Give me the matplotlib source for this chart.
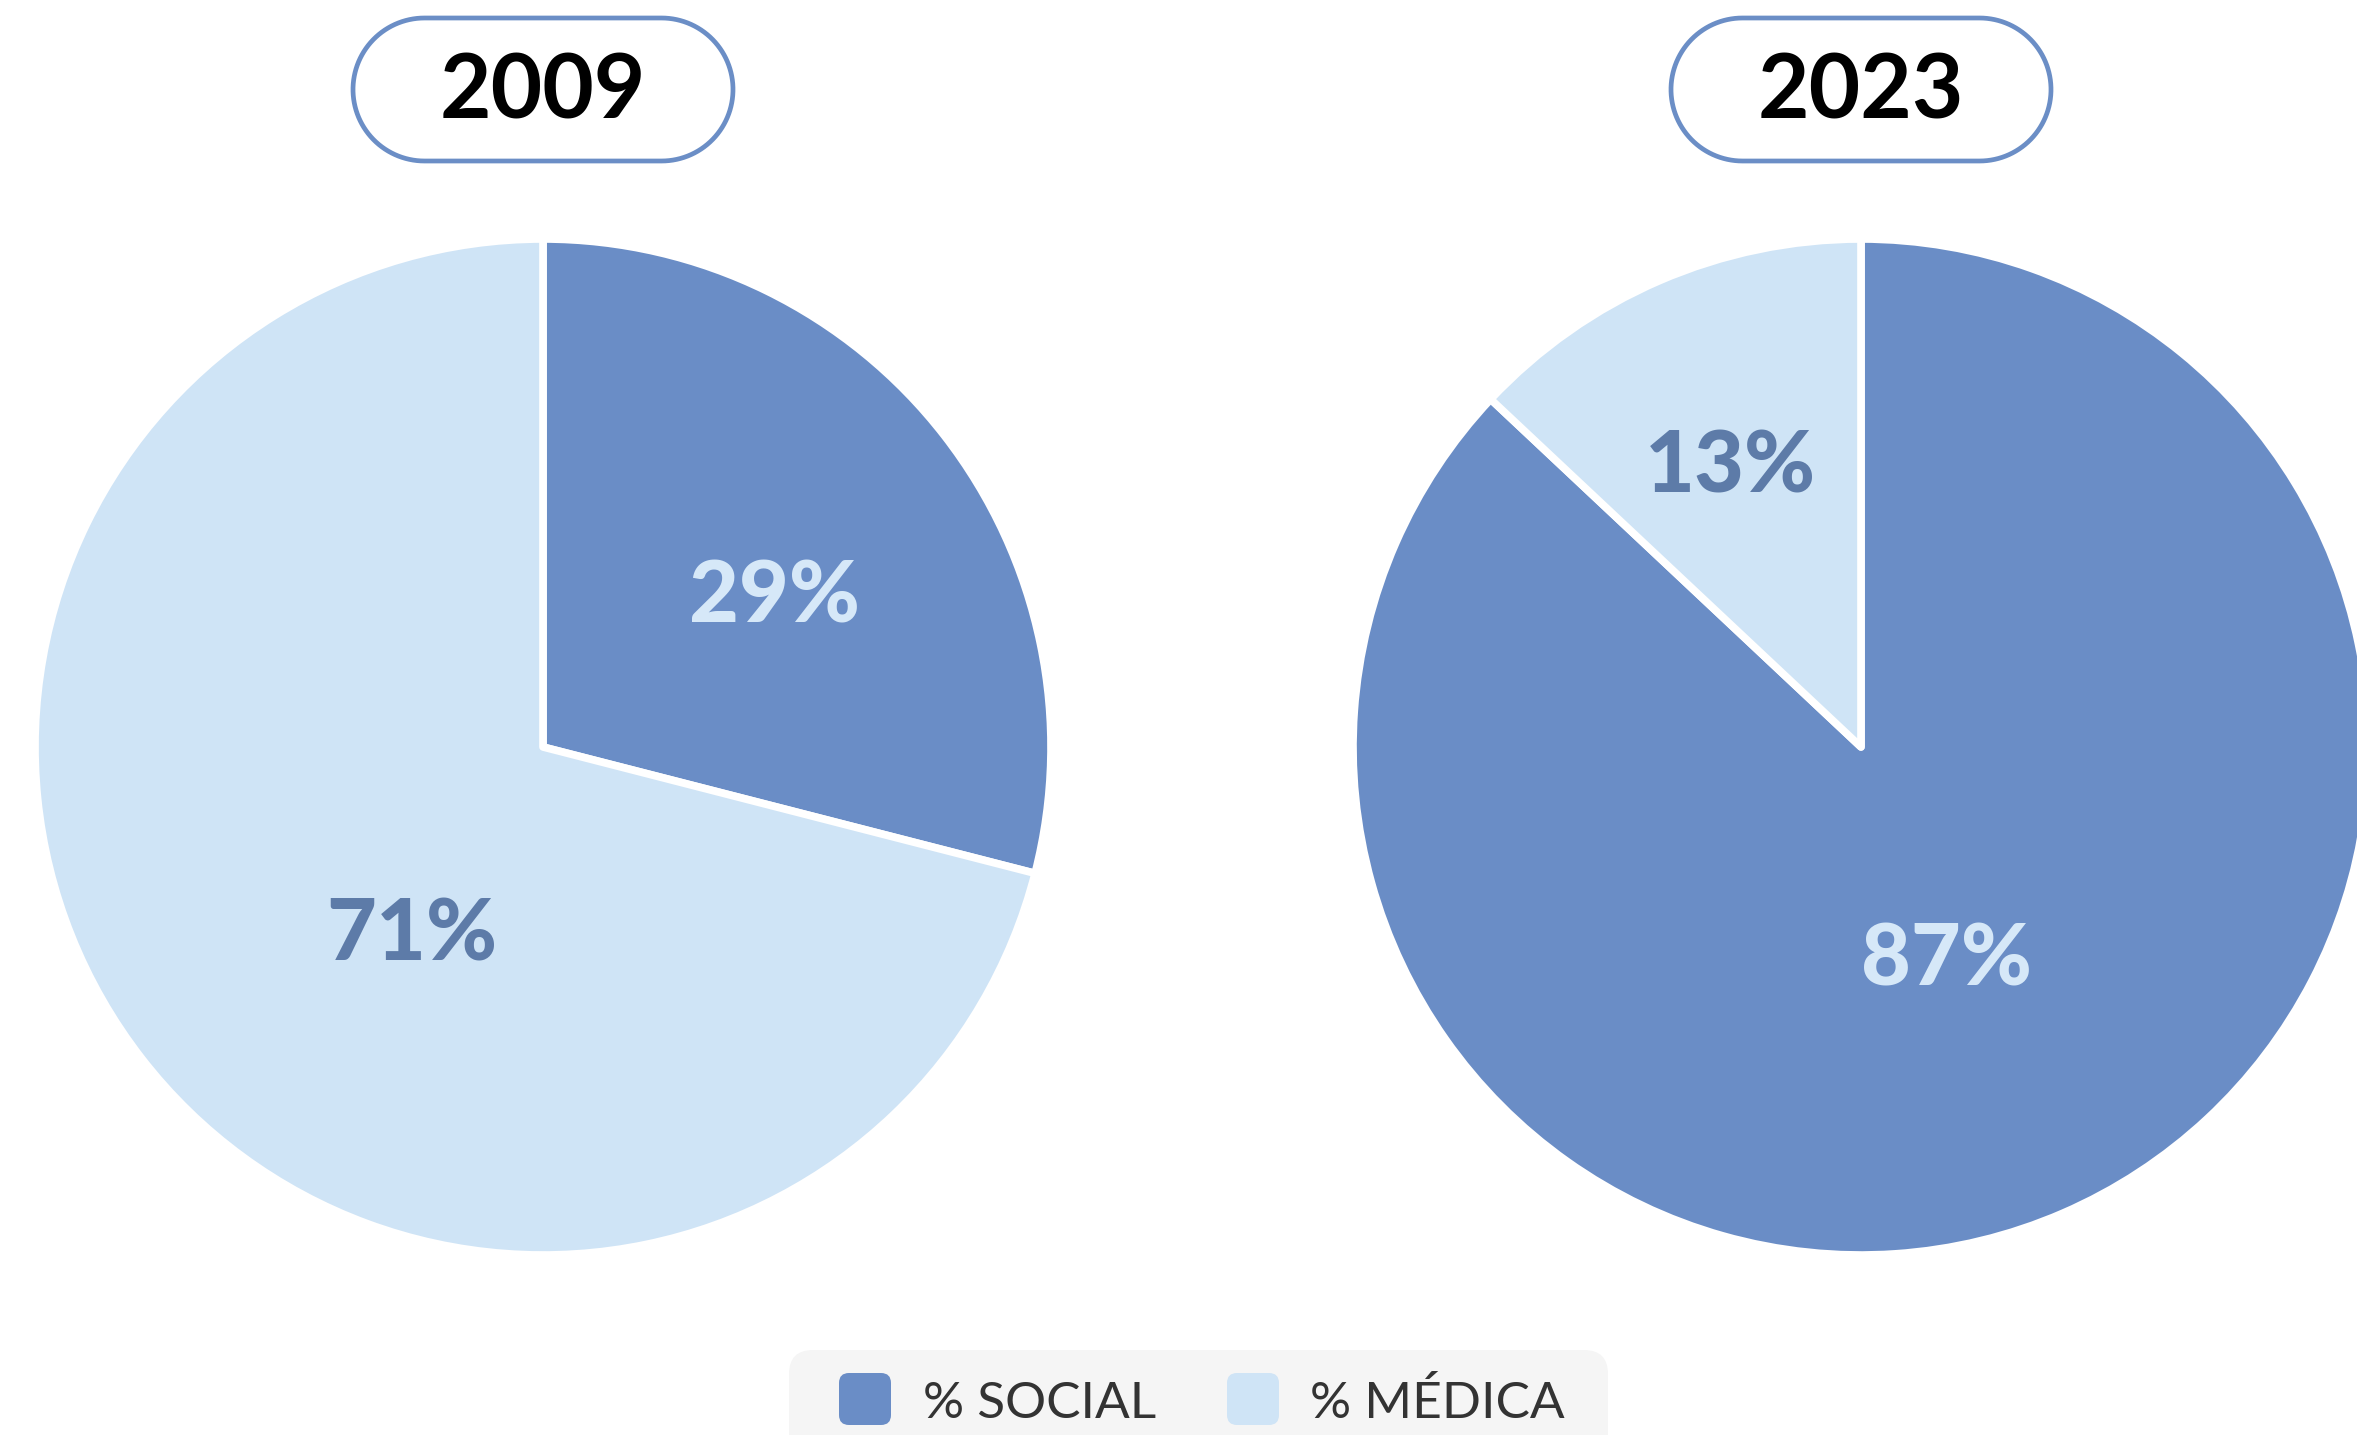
import numpy as np
import matplotlib.pyplot as plt
from matplotlib.patches import FancyBboxPatch, Polygon

# datos
years = ["2009", "2023"]
categories = ["% SOCIAL", "% MÉDICA"]
social = [29, 87]
medica = [71, 13]
pct_labels = [["29%", "71%"], ["87%", "13%"]]

colors = ["#6a8dc6", "#cfe4f6"]
label_colors = ["#d6e8f8", "#5d7ba8"]
# distancia radial y giro (grados) de cada etiqueta
label_radius = [[0.55, 0.44], [0.44, 0.62]]
label_shift = [[-3.8, 16.3], [-0.8, 1.0]]

W, H = 2357, 1435
fig = plt.figure(figsize=(W / 100, H / 100), dpi=100)
plt.rcParams['font.family'] = ['Lato', 'DejaVu Sans']

R = 508
centers_x = [543, 1861]
center_y = 747

for i in range(len(years)):
    cx = centers_x[i]
    ax = fig.add_axes([(cx - R) / W, (H - center_y - R) / H, 2 * R / W, 2 * R / H])
    vals = [social[i], medica[i]]
    ax.pie(vals, colors=colors, startangle=90, counterclock=False, radius=1,
           wedgeprops=dict(edgecolor="white", linewidth=5.5, joinstyle="round"))
    ax.set_xlim(-1, 1)
    ax.set_ylim(-1, 1)
    ax.set_aspect("equal")
    ax.axis("off")
    # etiquetas de porcentaje
    cum = 0
    for j, v in enumerate(vals):
        theta = np.deg2rad(90 - 360 * (cum + v / 2) / sum(vals) + label_shift[i][j])
        r = label_radius[i][j]
        ax.text(r * np.cos(theta), r * np.sin(theta), pct_labels[i][j],
                ha="center", va="center_baseline", fontsize=62, fontweight="black",
                color=label_colors[j])
        cum += v

# capa superior para titulos y leyenda
over = fig.add_axes([0, 0, 1, 1])
over.set_xlim(0, W)
over.set_ylim(H, 0)
over.axis("off")


def pill(cx, cy, w, h):
    r = h / 2
    t1 = np.linspace(np.pi / 2, 3 * np.pi / 2, 60)
    t2 = np.linspace(-np.pi / 2, np.pi / 2, 60)
    left = np.column_stack([cx - w / 2 + r + r * np.cos(t1), cy - r * np.sin(t1)])
    right = np.column_stack([cx + w / 2 - r + r * np.cos(t2), cy - r * np.sin(t2)])
    return np.vstack([left, right])


for i in range(len(years)):
    cx = centers_x[i]
    bw, bh = 380, 143
    cy = 18 + bh / 2
    over.add_patch(Polygon(pill(cx, cy, bw, bh), closed=True, facecolor="white",
                           edgecolor="#6b8ec6", linewidth=3.4))
    over.text(cx, cy + 3, years[i], ha="center", va="center",
              fontsize=64, fontweight="bold", color="black")

# leyenda
leg = FancyBboxPatch((789, 1350), 819, 120, boxstyle="round,pad=0,rounding_size=24",
                     facecolor="#f5f5f5", edgecolor="none")
over.add_patch(leg)
swatch_x = [839, 1227]
text_x = [923, 1310]
for k in range(len(categories)):
    sw = FancyBboxPatch((swatch_x[k], 1373), 52, 52, boxstyle="round,pad=0,rounding_size=10",
                        facecolor=colors[k], edgecolor="none")
    over.add_patch(sw)
    over.text(text_x[k], 1404, categories[k], ha="left", va="center",
              fontsize=37, color="#333333")

fig.savefig("out.png", dpi=100)
